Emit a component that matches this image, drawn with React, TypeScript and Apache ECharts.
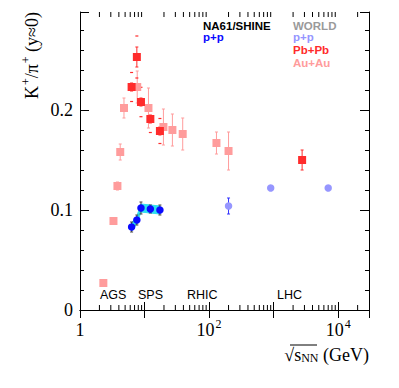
import React, { useEffect, useRef } from "react";
import * as echarts from "echarts";

const X_MIN = 1;
const X_MAX = 30000;
const Y_MIN = 0;
const Y_MAX = 0.298;

// Au+Au (world data)
const auauEnergy = [2.3, 3.3, 3.8, 4.2, 4.8, 7.7, 11.5, 19.6, 27, 39, 130, 200];
const auauRatio = [0.027, 0.089, 0.124, 0.158, 0.202, 0.223, 0.202, 0.183, 0.18, 0.176, 0.167, 0.159];
const auauErr = [0.003, 0.003, 0.004, 0.008, 0.01, 0.016, 0.02, 0.018, 0.016, 0.016, 0.011, 0.019];

// Pb+Pb (world data)
const pbpbEnergy = [6.3, 7.6, 8.8, 12.3, 17.3, 2760];
const pbpbRatio = [0.223, 0.253, 0.208, 0.191, 0.179, 0.15];
const pbpbErr = [0.004, 0.01, 0.004, 0.004, 0.004, 0.01];
const pbpbSys = [0.0145, 0.021, 0.0147, 0.0135, 0.0125, 0];

// NA61/SHINE p+p
const na61Energy = [6.3, 7.6, 8.8, 12.3, 17.3];
const na61Ratio = [0.083, 0.09, 0.102, 0.101, 0.1];
const na61Err = [0.005, 0.005, 0.006, 0.004, 0.005];
const na61Sys = [0.004, 0.004, 0.004, 0.004, 0.004];

// World p+p
const worldEnergy = [200, 900, 7000];
const worldRatio = [0.104, 0.122, 0.122];
const worldErr = [0.008, 0, 0];

// log-axis minor tick values
const minorTicks = [
  2, 3, 4, 5, 6, 7, 8, 9,
  20, 30, 40, 50, 60, 70, 80, 90,
  200, 300, 400, 500, 600, 700, 800, 900,
  2000, 3000, 4000, 5000, 6000, 7000, 8000, 9000,
  20000,
];

const regionLabels = ["AGS", "SPS", "RHIC", "LHC"];

const SERIF = "'Liberation Serif', 'Times New Roman', serif";
const SANS = "'Liberation Sans', Arial, Helvetica, sans-serif";

const C_AUAU = "#ff9c9c";
const C_PBPB = "#ff2b2b";
const C_NA61 = "#0a0aff";
const C_WORLD = "#9696ff";
const C_BAND = "#2ee0f0";

function errorBarSeries(name: string, xs: number[], ys: number[], errs: number[], color: string, cap: number) {
  return {
    type: "custom",
    name,
    silent: true,
    z: 2,
    data: xs.map((x, i) => [x, ys[i] - errs[i], ys[i] + errs[i]]),
    encode: { x: 0, y: [1, 2] },
    renderItem: (_p: any, api: any) => {
      const x = api.value(0);
      const a = api.coord([x, api.value(1)]);
      const b = api.coord([x, api.value(2)]);
      if (Math.abs(a[1] - b[1]) < 0.5) return null;
      const st = { stroke: color, lineWidth: 1 };
      return {
        type: "group",
        children: [
          { type: "line", shape: { x1: a[0], y1: a[1], x2: b[0], y2: b[1] }, style: st },
          { type: "line", shape: { x1: a[0] - cap, y1: a[1], x2: a[0] + cap, y2: a[1] }, style: st },
          { type: "line", shape: { x1: b[0] - cap, y1: b[1], x2: b[0] + cap, y2: b[1] }, style: st },
        ],
      };
    },
  };
}

export default function App() {
  const ref = useRef<HTMLDivElement>(null);

  useEffect(() => {
    document.body.style.margin = "0";
    if (!ref.current) return;
    const chart = echarts.init(ref.current, undefined, { renderer: "svg" });

    const supRich = {
      sup: { fontSize: 12, fontFamily: SERIF, verticalAlign: "top", lineHeight: 12, padding: [0, 0, 0, 1] },
      base: { fontSize: 18, fontFamily: SERIF, lineHeight: 21, verticalAlign: "bottom" },
    };

    const legendFont = "bold 11.5px " + SANS;

    const option: any = {
      animation: false,
      backgroundColor: "#ffffff",
      grid: { left: 80, top: 12, right: 30, bottom: 78, containLabel: false },
      xAxis: [
        {
          type: "log",
          min: X_MIN,
          max: X_MAX,
          logBase: 10,
          position: "bottom",
          axisLine: { show: true, lineStyle: { color: "#000", width: 1 } },
          axisTick: { show: true, inside: true, length: 8, lineStyle: { color: "#000" } },
          splitLine: { show: false },
          axisLabel: {
            show: true,
            margin: 8,
            color: "#000",
            fontFamily: SERIF,
            fontSize: 18,
            showMaxLabel: false,
            formatter: (v: number) => {
              const e = Math.log10(v);
              const r = Math.round(e);
              if (Math.abs(e - r) > 1e-6) return "";
              if (r === 0) return "{base|1}";
              if (r % 2 !== 0) return "";
              return "{base|10}{sup|" + r + "}";
            },
            rich: supRich,
          },
        },
        {
          type: "log",
          min: X_MIN,
          max: X_MAX,
          logBase: 10,
          position: "top",
          axisLine: { show: true, lineStyle: { color: "#000", width: 1 } },
          axisTick: { show: true, inside: true, length: 8, lineStyle: { color: "#000" } },
          splitLine: { show: false },
          axisLabel: { show: false },
        },
      ],
      yAxis: [
        {
          type: "value",
          min: Y_MIN,
          max: Y_MAX,
          interval: 0.1,
          position: "left",
          axisLine: { show: true, lineStyle: { color: "#000", width: 1 } },
          axisTick: { show: true, inside: true, length: 9, lineStyle: { color: "#000" } },
          minorTick: { show: true, splitNumber: 5, length: 4, lineStyle: { color: "#000" } },
          splitLine: { show: false },
          axisLabel: {
            margin: 7,
            color: "#000",
            fontFamily: SERIF,
            fontSize: 18,
            showMaxLabel: false,
            formatter: (v: number) => {
              const r = Math.round(v * 10) / 10;
              if (Math.abs(v - r) > 1e-6) return "";
              return r === 0 ? "0" : r.toFixed(1);
            },
          },
        },
        {
          type: "value",
          min: Y_MIN,
          max: Y_MAX,
          interval: 0.1,
          position: "right",
          axisLine: { show: true, lineStyle: { color: "#000", width: 1 } },
          axisTick: { show: true, inside: true, length: 9, lineStyle: { color: "#000" } },
          minorTick: { show: true, splitNumber: 5, length: 4, lineStyle: { color: "#000" } },
          splitLine: { show: false },
          axisLabel: { show: false },
        },
      ],
      series: [
        {
          type: "custom",
          name: "minorTicks",
          silent: true,
          z: 5,
          data: minorTicks.map((v) => [v, Y_MIN]),
          encode: { x: 0, y: 1 },
          renderItem: (_p: any, api: any) => {
            const v = api.value(0);
            const b = api.coord([v, Y_MIN]);
            const t = api.coord([v, Y_MAX]);
            const st = { stroke: "#000", lineWidth: 1 };
            return {
              type: "group",
              children: [
                { type: "line", shape: { x1: b[0], y1: b[1], x2: b[0], y2: b[1] - 5 }, style: st },
                { type: "line", shape: { x1: t[0], y1: t[1], x2: t[0], y2: t[1] + 5 }, style: st },
              ],
            };
          },
        },
        {
          type: "custom",
          name: "na61Band",
          silent: true,
          z: 1,
          data: na61Energy.map((x, i) => [x, na61Ratio[i]]),
          encode: { x: 0, y: 1 },
          renderItem: (p: any, api: any) => {
            if (p.dataIndex !== 0) return null;
            const upper = na61Energy.map((x, i) => api.coord([x, na61Ratio[i] + na61Sys[i]]));
            const lower = na61Energy.map((x, i) => api.coord([x, na61Ratio[i] - na61Sys[i]])).reverse();
            return {
              type: "polygon",
              shape: { points: upper.concat(lower) },
              style: { fill: C_BAND, stroke: C_BAND, lineWidth: 1 },
            };
          },
        },
        errorBarSeries("auauErr", auauEnergy, auauRatio, auauErr, C_AUAU, 1.5),
        errorBarSeries("pbpbErr", pbpbEnergy, pbpbRatio, pbpbErr, C_PBPB, 1.5),
        errorBarSeries("na61Err", na61Energy, na61Ratio, na61Err, "#444", 1.5),
        errorBarSeries("worldErr", worldEnergy, worldRatio, worldErr, "#3333ff", 1.5),
        {
          type: "custom",
          name: "pbpbSys",
          silent: true,
          z: 2,
          data: pbpbEnergy.map((x, i) => [x, pbpbRatio[i] - pbpbSys[i], pbpbRatio[i] + pbpbSys[i]]),
          encode: { x: 0, y: [1, 2] },
          renderItem: (_p: any, api: any) => {
            const x = api.value(0);
            const a = api.coord([x, api.value(1)]);
            const b = api.coord([x, api.value(2)]);
            if (Math.abs(a[1] - b[1]) < 0.5) return null;
            const st = { stroke: C_PBPB, lineWidth: 1.2 };
            return {
              type: "group",
              children: [
                { type: "line", shape: { x1: a[0] - 1.5, y1: a[1], x2: a[0] + 1.5, y2: a[1] }, style: st },
                { type: "line", shape: { x1: b[0] - 1.5, y1: b[1], x2: b[0] + 1.5, y2: b[1] }, style: st },
              ],
            };
          },
        },
        {
          type: "scatter",
          name: "Au+Au",
          symbol: "rect",
          symbolSize: 8,
          z: 3,
          itemStyle: { color: C_AUAU, opacity: 1 },
          data: auauEnergy.map((x, i) => [x, auauRatio[i]]),
        },
        {
          type: "scatter",
          name: "Pb+Pb",
          symbol: "rect",
          symbolSize: 8,
          z: 4,
          itemStyle: { color: C_PBPB, opacity: 1 },
          data: pbpbEnergy.map((x, i) => [x, pbpbRatio[i]]),
        },
        {
          type: "scatter",
          name: "World p+p",
          symbol: "circle",
          symbolSize: 7.5,
          z: 3,
          itemStyle: { color: C_WORLD, opacity: 1 },
          data: worldEnergy.map((x, i) => [x, worldRatio[i]]),
        },
        {
          type: "scatter",
          name: "NA61 p+p",
          symbol: "circle",
          symbolSize: 7.5,
          z: 4,
          itemStyle: { color: C_NA61, opacity: 1 },
          data: na61Energy.map((x, i) => [x, na61Ratio[i]]),
        },
      ],
      graphic: [
        // y axis title
        {
          type: "text",
          x: 30,
          y: 12,
          rotation: Math.PI / 2,
          style: {
            text: "{base|K}{sup|+}{base|/π}{sup|+}{base| (y≈0)}",
            rich: supRich,
            align: "right",
            verticalAlign: "middle",
            fill: "#000",
            fontFamily: SERIF,
            fontSize: 18,
          },
        },
        // x axis title
        {
          type: "text",
          x: 369,
          y: 354,
          style: {
            text: "{base|√s}{sub|NN}{base| (GeV)}",
            rich: {
              base: { fontSize: 18, fontFamily: SERIF, verticalAlign: "bottom", lineHeight: 20 },
              sub: { fontSize: 12, fontFamily: SERIF, verticalAlign: "bottom", lineHeight: 16 },
            },
            align: "right",
            verticalAlign: "middle",
            fill: "#000",
          },
        },
        {
          type: "line",
          shape: { x1: 290, y1: 345, x2: 317, y2: 345 },
          style: { stroke: "#000", lineWidth: 1 },
        },
        // legend block
        { type: "text", x: 203, y: 25.5, style: { text: "NA61/SHINE", fill: "#000", font: legendFont, verticalAlign: "middle" } },
        { type: "text", x: 203, y: 37, style: { text: "p+p", fill: C_NA61, font: legendFont, verticalAlign: "middle" } },
        { type: "text", x: 293, y: 25.5, style: { text: "WORLD", fill: "#9a9a9a", font: legendFont, verticalAlign: "middle" } },
        { type: "text", x: 293, y: 37, style: { text: "p+p", fill: C_WORLD, font: legendFont, verticalAlign: "middle" } },
        { type: "text", x: 293, y: 50, style: { text: "Pb+Pb", fill: C_PBPB, font: legendFont, verticalAlign: "middle" } },
        { type: "text", x: 293, y: 62.5, style: { text: "Au+Au", fill: C_AUAU, font: legendFont, verticalAlign: "middle" } },
        // accelerator labels
        { type: "text", x: 100, y: 295, style: { text: regionLabels[0], fill: "#000", font: "12.5px " + SANS, verticalAlign: "middle" } },
        { type: "text", x: 138, y: 295, style: { text: regionLabels[1], fill: "#000", font: "12.5px " + SANS, verticalAlign: "middle" } },
        { type: "text", x: 187, y: 295, style: { text: regionLabels[2], fill: "#000", font: "12.5px " + SANS, verticalAlign: "middle" } },
        { type: "text", x: 277, y: 295, style: { text: regionLabels[3], fill: "#000", font: "12.5px " + SANS, verticalAlign: "middle" } },
      ],
    };

    chart.setOption(option);
    return () => {
      chart.dispose();
    };
  }, []);

  return <div ref={ref} style={{ width: 399, height: 388 }} />;
}
